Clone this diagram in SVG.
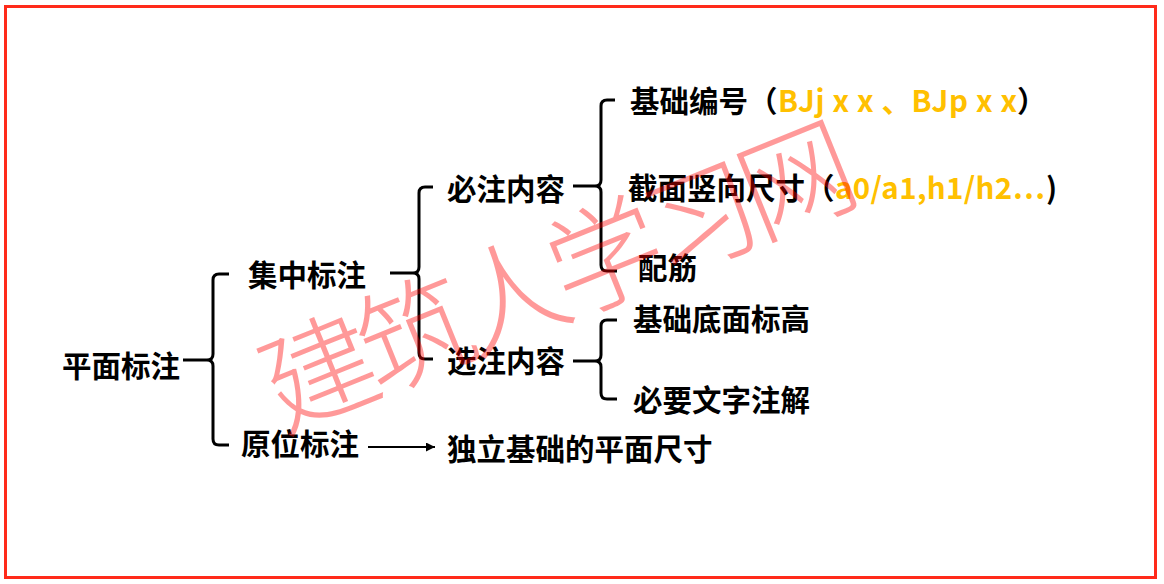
<svg xmlns="http://www.w3.org/2000/svg" width="1164" height="584" viewBox="0 0 1164 584">
<style>
.t{font-family:"Noto Sans CJK SC","Microsoft YaHei",sans-serif;font-weight:bold;font-size:29.5px;fill:#000}
.o{fill:#FFC000}
.br{fill:none;stroke:#000;stroke-width:3;stroke-linecap:butt;stroke-linejoin:round}
.wm{font-family:"Noto Sans CJK SC",sans-serif;font-weight:300;font-size:114px;fill:#ff0000;fill-opacity:0.4;letter-spacing:-11px}
</style>
<defs>
<marker id="ah" viewBox="0 0 10 10" refX="10" refY="5" markerWidth="5" markerHeight="4.5" orient="auto" markerUnits="strokeWidth">
<path d="M0,0 L10,5 L0,10 z" fill="#000"/>
</marker>
</defs>
<rect x="5.5" y="6.5" width="1150" height="571" fill="#fff" stroke="#ff2a1a" stroke-width="3"/>
<g id="connectors">
<path class="br" d="M183,360 H207 Q213,360 213,354 V280 Q213,274 219,274 H229 M213,366 Q213,360 207,360 M213,366 V439 Q213,445 219,445 H229"/>
<path class="br" d="M390,273 H413 Q419,273 419,267 V193 Q419,187 425,187 H433 M419,279 Q419,273 413,273 M419,279 V353 Q419,359 425,359 H433"/>
<path class="br" d="M573,186 H595 Q601,186 601,180 V106 Q601,100 607,100 H615 M601,192 Q601,186 595,186 M601,192 V265 Q601,271 607,271 H617"/>
<path class="br" d="M573,361 H595 Q601,361 601,355 V326 Q601,320 607,320 H617 M601,367 Q601,361 595,361 M601,367 V393 Q601,399 607,399 H617"/>
<line x1="368" y1="447" x2="435" y2="447" stroke="#000" stroke-width="2" marker-end="url(#ah)"/>
</g>
<g id="n-pingmian"><text class="t" x="62" y="377">平面标注</text></g>
<g id="n-jizhong"><text class="t" x="248" y="285.5">集中标注</text></g>
<g id="n-yuanwei"><text class="t" x="241" y="455">原位标注</text></g>
<g id="n-bizhu"><text class="t" x="447" y="199.5">必注内容</text></g>
<g id="n-xuanzhu"><text class="t" x="447" y="371.5">选注内容</text></g>
<g id="n-bianhao">
<text class="t" x="630" y="111.5">基础编号（</text>
<text class="t o" x="778" y="111.5" textLength="239" lengthAdjust="spacing">BJj x x 、BJp x x</text>
<text class="t" x="1017" y="111.5">）</text>
</g>
<g id="n-jiemian">
<text class="t" x="628" y="198.5">截面竖向尺寸（</text>
<text class="t o" x="835" y="198.5" textLength="210" lengthAdjust="spacing">a0/a1,h1/h2…</text>
<text class="t" x="1046" y="198.5">)</text>
</g>
<g id="n-peijin"><text class="t" x="638" y="279">配筋</text></g>
<g id="n-dimian"><text class="t" x="633" y="330">基础底面标高</text></g>
<g id="n-wenzi"><text class="t" x="633" y="411">必要文字注解</text></g>
<g id="n-chicun"><text class="t" x="447" y="460">独立基础的平面尺寸</text></g>
<g id="watermark"><text class="wm" x="550" y="271" text-anchor="middle" dominant-baseline="central" transform="rotate(-22 550 271)">建筑人学习网</text></g>
</svg>
